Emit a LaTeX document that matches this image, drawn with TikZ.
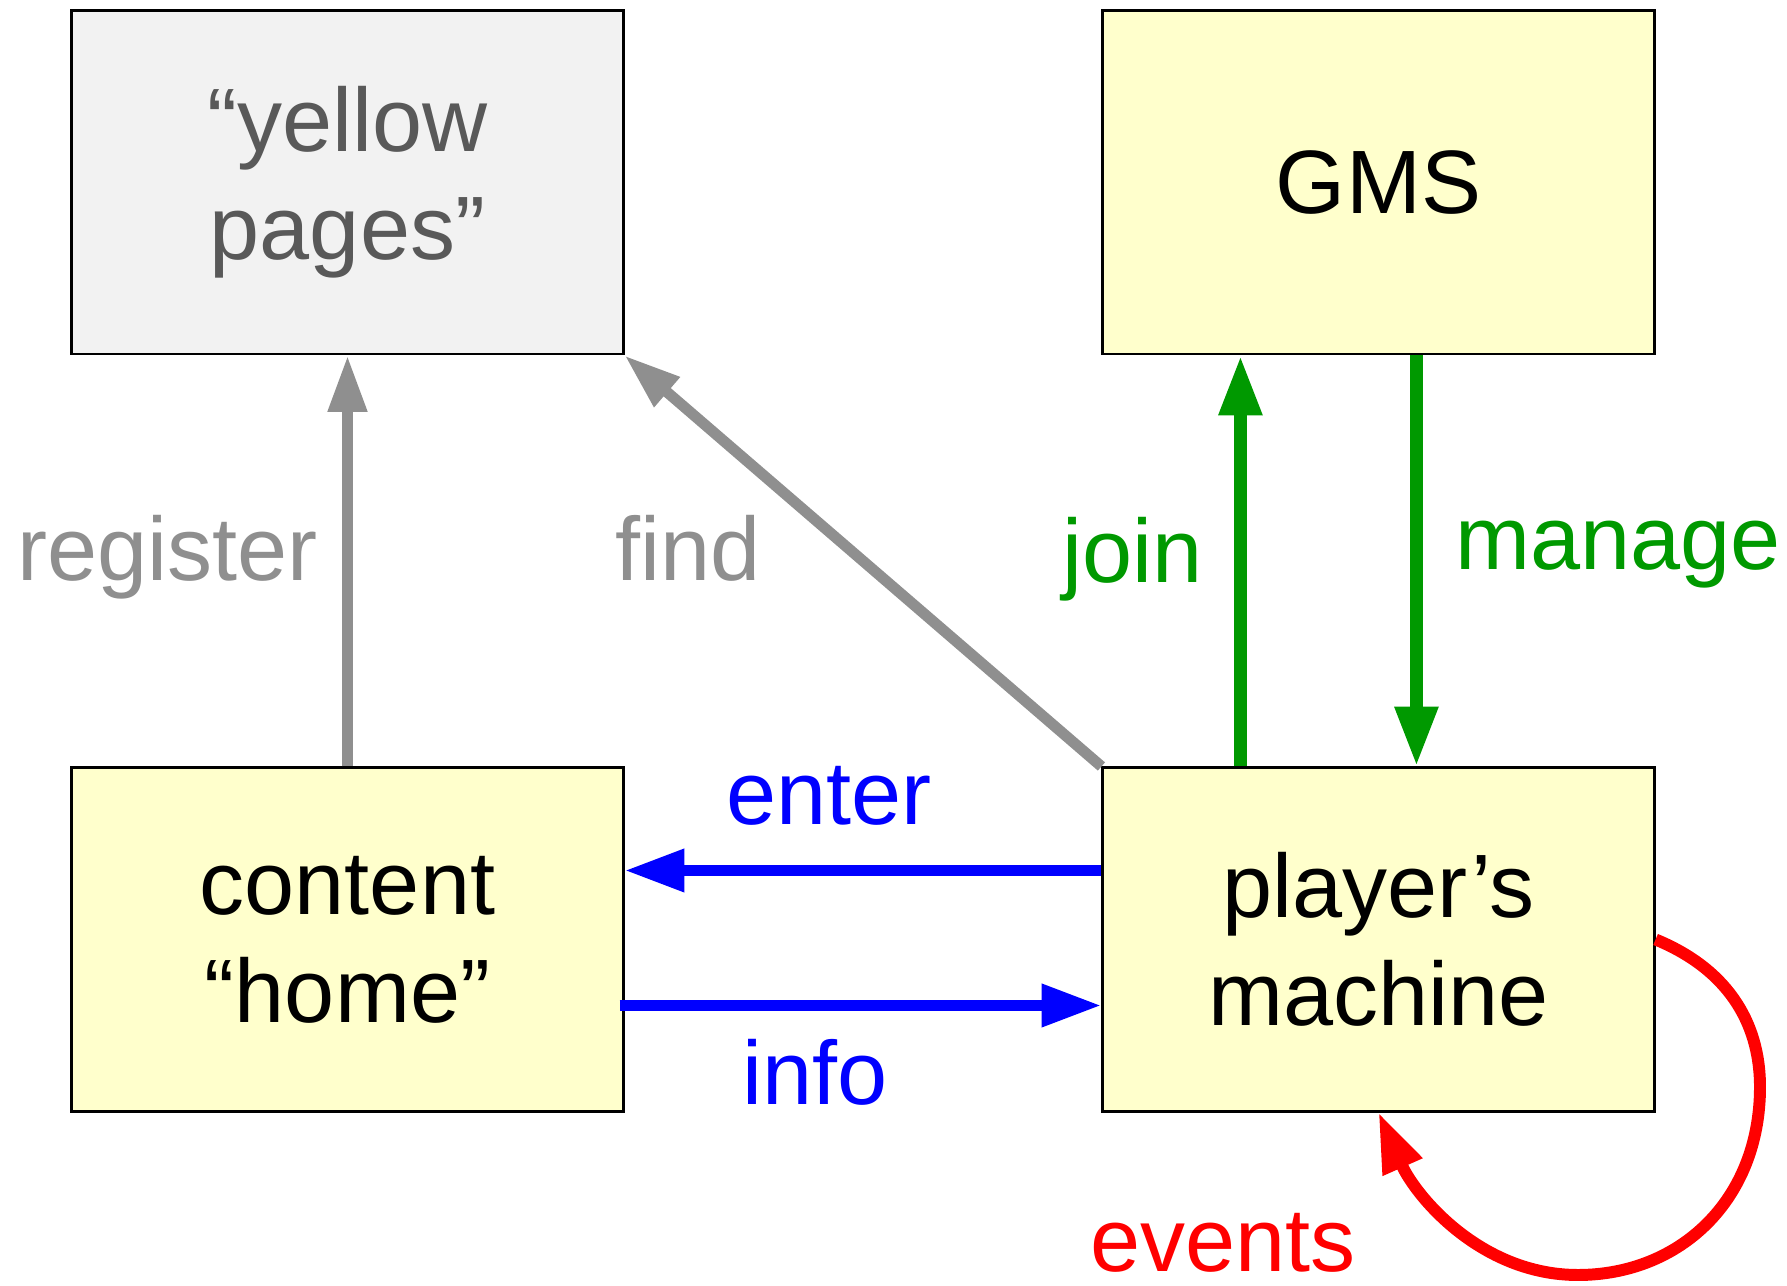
\documentclass[tikz,border=0pt]{standalone}
\usepackage{fontspec}
\setmainfont{Liberation Sans}
\usetikzlibrary{arrows.meta,calc}
\definecolor{boxyellow}{RGB}{255,255,204}
\definecolor{boxgray}{RGB}{242,242,242}
\definecolor{yptext}{RGB}{89,89,89}
\definecolor{arrowgray}{RGB}{143,143,143}
\definecolor{mygreen}{RGB}{0,153,0}
\begin{document}
\begin{tikzpicture}[x=0.01cm,y=-0.01cm,
  box/.style={draw=black,line width=0.8pt,minimum width=5.51cm,minimum height=3.43cm,
    inner sep=0pt,align=center,font=\fontsize{25.6}{30.7}\selectfont},
  lbl/.style={anchor=base,inner sep=0pt,font=\fontsize{25.6}{30.7}\selectfont},
  tipgray/.style={-{Triangle[length=16pt,width=10.5pt]}},
  tipbig/.style={-{Triangle[length=17pt,width=11.5pt]}},
  grayarr/.style={tipgray,draw=arrowgray,line width=3.1pt},
  greenarr/.style={tipbig,draw=mygreen,line width=3.7pt},
  bluearr/.style={tipbig,draw=blue,line width=3.3pt},
  redarr/.style={tipbig,draw=red,line width=3.4pt}]
\useasboundingbox (0,0) rectangle (1787,1286);

\node[box,fill=boxgray,text=yptext] (yp) at (347.5,182.5) {“yellow\\pages”};
\node[box,fill=boxyellow] (gms) at (1378.5,182.5) {GMS};
\node[box,fill=boxyellow] (ch) at (347.5,939.5) {content\\“home”};
\node[box,fill=boxyellow] (pm) at (1378.5,939.5) {player’s\\machine};

% gray arrows
\draw[grayarr] (ch.north) -- (yp.south);
\draw[grayarr] (pm.north west) -- (yp.south east);
% green arrows
\draw[greenarr] ($(pm.north west)+(139,0)$) -- ($(gms.south west)+(139,0)$);
\draw[greenarr] ($(gms.south west)+(315,0)$) -- ($(pm.north west)+(315,0)$);
% blue arrows
\draw[bluearr] ($(pm.north west)+(0,104)$) -- ($(ch.north east)+(0,104)$);
\draw[bluearr] ($(ch.north east)+(-5,239)$) -- ($(pm.north west)+(0,239)$);
% red loop
\draw[redarr] (pm.east) .. controls (1725,968) and (1760,1020) .. (1760,1087)
  .. controls (1760,1200) and (1680,1275) .. (1578,1275)
  .. controls (1480,1275) and (1415,1195) .. (pm.south);

% labels
\node[lbl,text=arrowgray] (lregister) at (167.5,581) {register};
\node[lbl,text=arrowgray] (lfind) at (688,581) {find};
\node[lbl,text=mygreen] (ljoin) at (1133,583) {join};
\node[lbl,text=mygreen] (lmanage) at (1618,570) {manage};
\node[lbl,text=blue] (lenter) at (829,825) {enter};
\node[lbl,text=blue] (linfo) at (815,1105) {info};
\node[lbl,text=red] (levents) at (1223,1272) {events};
\end{tikzpicture}
\end{document}
